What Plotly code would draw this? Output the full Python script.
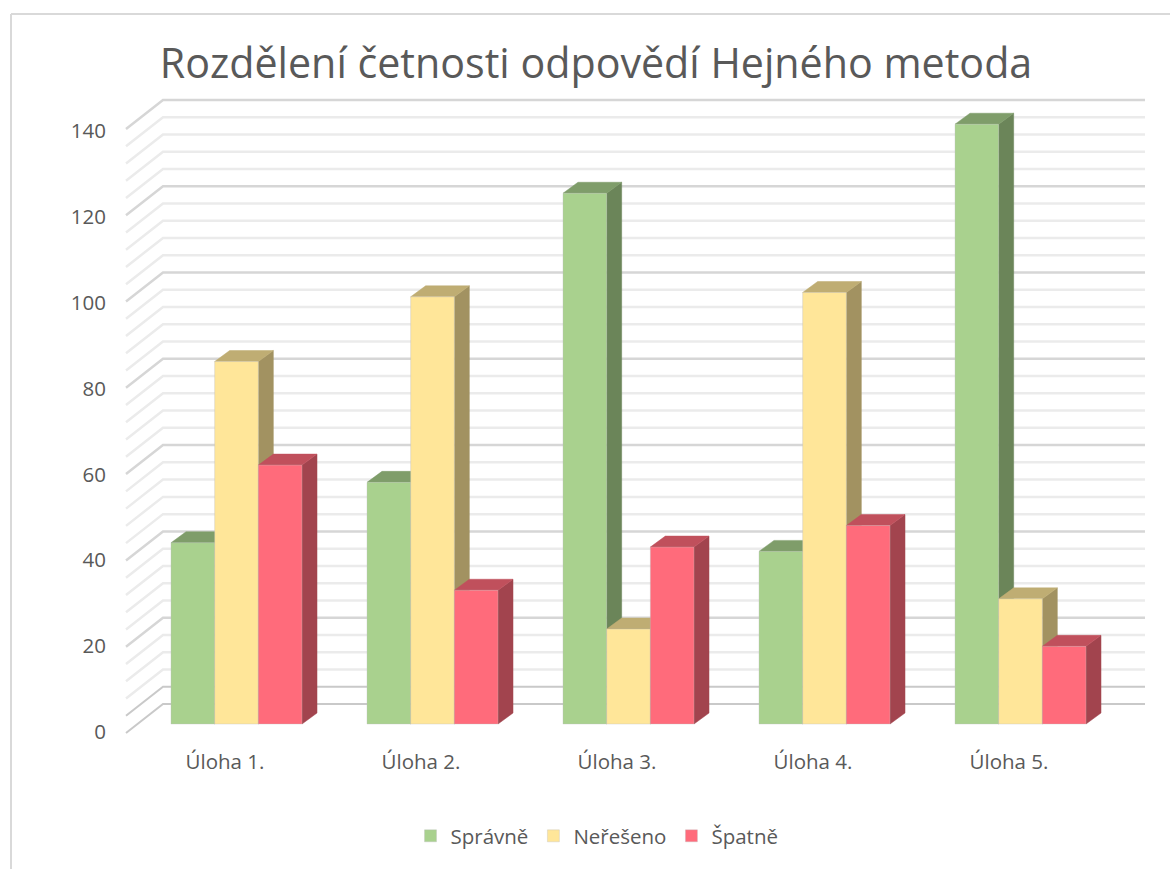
import plotly.graph_objects as go

# --- data ---
categories = ["Úloha 1.", "Úloha 2.", "Úloha 3.", "Úloha 4.", "Úloha 5."]
spravne = [42, 56, 123, 40, 139]
nereseno = [84, 99, 22, 100, 29]
spatne = [60, 31, 41, 46, 18]
series_names = ["Správně", "Neřešeno", "Špatně"]
front_colors = ["#A9D18E", "#FFE699", "#FF6B7B"]
top_colors = ["#7F9D6A", "#BFAD73", "#C0505C"]
side_colors = ["#6B8559", "#A29261", "#A2444E"]
y_ticks = [0, 20, 40, 60, 80, 100, 120, 140]
grid_levels = list(range(0, 141, 4))

# --- page geometry (pixels) ---
W, H = 1170, 869
L, R, T, B = 107, 1160, 90, 747
PX_PER_UNIT = 4.315
FLOOR_PX = 724
CAT0_PX = 236.5
CAT_STEP = 196
BAR_PX = 43.67


def x_of(p):
    return (p - CAT0_PX) / CAT_STEP


def y_of(p):
    return (FLOOR_PX - p) / PX_PER_UNIT


bw = BAR_PX / CAT_STEP
dx = 15 / CAT_STEP
dy = 11 / PX_PER_UNIT
x_range = [x_of(L), x_of(R)]
y_range = [y_of(B), y_of(T)]

fig = go.Figure()

# Back wall + left wall gridlines
back_shift = (FLOOR_PX - 704) / PX_PER_UNIT
wall_x0, wall_x1, wall_x2 = x_of(126), x_of(163), x_of(1145)
wall_drop = 29 / PX_PER_UNIT


def grid_trace(levels, color, width):
    xs, ys = [], []
    for v in levels:
        b = v + back_shift
        xs += [wall_x0, wall_x1, wall_x2, None]
        ys += [b - wall_drop, b, b, None]
    return go.Scatter(x=xs, y=ys, mode="lines", showlegend=False, hoverinfo="skip",
                      line=dict(color=color, width=width))


minor = [v for v in grid_levels if v % 20 != 0 and v > 4]
major = [v for v in grid_levels if v % 20 == 0 and v > 0]
fig.add_trace(grid_trace(minor, "#EBEBEB", 2.5))
fig.add_trace(grid_trace(major, "#D6D6D6", 2.5))
fig.add_trace(grid_trace([0, 4], "#C9C9C9", 2))


def faces(vals, s, yaxis):
    """Top and side faces of the bars of series s."""
    tx, ty, sx, sy = [], [], [], []
    for i, v in enumerate(vals):
        l = i + (s - 1.5) * bw
        r = l + bw
        tx += [l, r, r + dx, l + dx, l, None]
        ty += [v, v, v + dy, v + dy, v, None]
        sx += [r, r + dx, r + dx, r, r, None]
        sy += [v, v + dy, dy, 0, v, None]
    out = []
    for xs, ys, c in ((sx, sy, side_colors[s]), (tx, ty, top_colors[s])):
        out.append(go.Scatter(x=xs, y=ys, yaxis=yaxis, mode="lines", fill="toself",
                              fillcolor=c, line=dict(color=c, width=0.5),
                              showlegend=False, hoverinfo="skip"))
    return out


all_vals = [spravne, nereseno, spatne]
axis_ids = ["y", "y2", "y3", "y4"]
for s, vals in enumerate(all_vals):
    # faces of series s sit just above the front of series s-1
    for tr in faces(vals, s, axis_ids[s]):
        fig.add_trace(tr)
    # front of series s sits one overlay higher, above its own faces
    fig.add_trace(go.Bar(
        x=[i + (s - 1) * bw for i in range(len(categories))], y=vals, width=bw,
        name=series_names[s], yaxis=axis_ids[s + 1],
        marker=dict(color=front_colors[s], line=dict(color="rgba(190,190,190,0.35)", width=1)),
    ))

label_font = dict(family="Open Sans", size=20.5, color="#595959")
tick_shift_x = -11.5 / CAT_STEP
y_label_scale, y_label_off = 4.29 / PX_PER_UNIT, -7.8 / PX_PER_UNIT


def py(p):
    return (B - p) / (B - T)


def px(p):
    return (p - L) / (R - L)


hidden = dict(range=y_range, overlaying="y", visible=False, fixedrange=True)
fig.update_layout(
    width=W, height=H, autosize=False,
    margin=dict(l=L, r=W - R, t=T, b=H - B, pad=0),
    paper_bgcolor="white", plot_bgcolor="rgba(0,0,0,0)",
    barmode="overlay",
    font=label_font,
    title=dict(text="Rozdělení četnosti odpovědí Hejného metoda",
               x=596 / W, xanchor="center", y=1 - 64 / H, yanchor="middle",
               font=dict(family="Open Sans", size=41.2, color="#595959")),
    xaxis=dict(range=x_range, tickmode="array",
               tickvals=[i + tick_shift_x for i in range(len(categories))],
               ticktext=categories, showgrid=False, zeroline=False, showline=False,
               ticks="", tickfont=label_font, fixedrange=True),
    yaxis=dict(range=y_range, tickmode="array",
               tickvals=[v * y_label_scale + y_label_off for v in y_ticks],
               ticktext=[str(v) for v in y_ticks], showgrid=False, zeroline=False,
               showline=False, ticks="", tickfont=label_font, fixedrange=True),
    yaxis2=hidden, yaxis3=hidden, yaxis4=hidden,
    legend=dict(orientation="h", x=px(597), xanchor="center", y=py(836), yanchor="middle",
                font=dict(family="Open Sans", size=20.5, color="#595959"),
                bgcolor="rgba(0,0,0,0)", traceorder="normal"),
    shapes=[
        dict(type="line", xref="paper", yref="paper", x0=px(11), x1=px(11), y0=py(14), y1=py(869),
             line=dict(color="#D9D9D9", width=2), layer="below"),
        dict(type="line", xref="paper", yref="paper", x0=px(11), x1=px(1170), y0=py(14), y1=py(14),
             line=dict(color="#D9D9D9", width=2), layer="below"),
    ],
)

fig.write_html("out.html", config={"displayModeBar": False},
               post_script="document.body.style.margin='0';")
